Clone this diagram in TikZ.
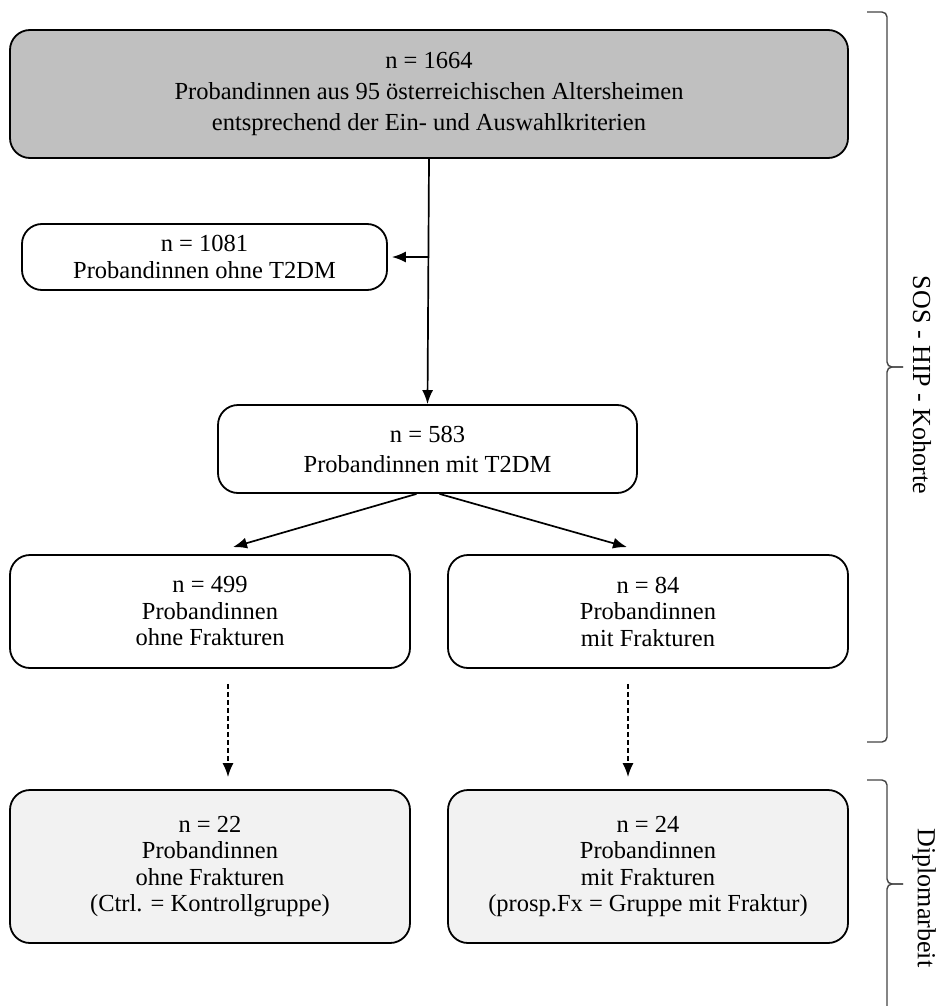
\documentclass[tikz,border=0pt]{standalone}
\usepackage{fontspec}
\setmainfont{Liberation Serif}
\usepackage{xcolor}
\usetikzlibrary{positioning,calc,arrows.meta}

\definecolor{boxgray}{HTML}{C0C0C0}
\definecolor{boxlight}{HTML}{F2F2F2}
\definecolor{bracegray}{HTML}{444444}

\tikzset{
  flowbox/.style={draw=black, line width=1.8pt, rounded corners=20pt, align=center,
    inner sep=0pt, font=\fontsize{24.5}{26.5}\selectfont},
  flowarrow/.style={line width=1.7pt, -{Latex[length=14pt,width=11pt]}},
  dasharrow/.style={flowarrow, dash pattern=on 5pt off 3pt},
  braceline/.style={draw=bracegray, line width=1.4pt, rounded corners=5pt},
  bracelabel/.style={rotate=-90, font=\fontsize{26}{28}\selectfont}
}

\begin{document}
\begin{tikzpicture}[x=1pt, y=-1pt]
  \useasboundingbox (0,0) rectangle (942,1006);

  % Kohorte
  \node[flowbox, fill=boxgray, minimum width=838pt, minimum height=128pt,
    font=\fontsize{24.5}{31}\selectfont] (top) at (429,94)
    {n = 1664\\Probandinnen aus 95 österreichischen Altersheimen\\entsprechend der Ein- und Auswahlkriterien};
  \node[flowbox, minimum width=365pt, minimum height=66pt] (noDM) at (204.5,257)
    {n = 1081\\Probandinnen ohne T2DM};
  \node[flowbox, minimum width=419pt, minimum height=88pt,
    font=\fontsize{24.5}{30}\selectfont] (DM) at (427.5,449)
    {n = 583\\Probandinnen mit T2DM};

  % Frakturen
  \node[flowbox, minimum width=400pt, minimum height=113pt] (noFx) at (210,611.5)
    {n = 499\\Probandinnen\\ohne Frakturen};
  \node[flowbox, minimum width=400pt, minimum height=113pt] (Fx) at (648,611.5)
    {n = 84\\Probandinnen\\mit Frakturen};

  % Diplomarbeit
  \node[flowbox, fill=boxlight, minimum width=400pt, minimum height=153pt] (ctrl) at (210,866.5)
    {n = 22\\Probandinnen\\ohne Frakturen\\(Ctrl. = Kontrollgruppe)};
  \node[flowbox, fill=boxlight, minimum width=400pt, minimum height=153pt] (prosp) at (648,866.5)
    {n = 24\\Probandinnen\\mit Frakturen\\(prosp.Fx = Gruppe mit Fraktur)};

  % Connectors
  \coordinate (split) at (top.south |- noDM.east);
  \draw[flowarrow] (top.south) -- (DM.north);
  \draw[flowarrow, shorten >=4pt] (split) -- (noDM.east);
  \draw[flowarrow] ([xshift=-11pt]DM.south) -- ([xshift=23pt,yshift=7pt]noFx.north);
  \draw[flowarrow] ([xshift=12pt]DM.south) -- ([xshift=-21pt,yshift=7pt]Fx.north);
  \draw[dasharrow] ([xshift=18pt,yshift=-15pt]noFx.south) -- ([xshift=18pt,yshift=12pt]ctrl.north);
  \draw[dasharrow] ([xshift=-20pt,yshift=-15pt]Fx.south) -- ([xshift=-20pt,yshift=12pt]prosp.north);

  % Braces
  \draw[braceline] (867,12) -- (887,12) -- (887,367) -- (903,367);
  \draw[braceline] (903,367) -- (887,367) -- (887,742) -- (867,742);
  \node[bracelabel] (kohorte) at (922,385) {SOS - HIP - Kohorte};

  \draw[braceline] (867,780) -- (887,780) -- (887,884) -- (903,884);
  \draw[braceline] (903,884) -- (887,884) -- (887,1012);
  \node[bracelabel] (diplom) at (924,898) {Diplomarbeit};
\end{tikzpicture}
\end{document}
